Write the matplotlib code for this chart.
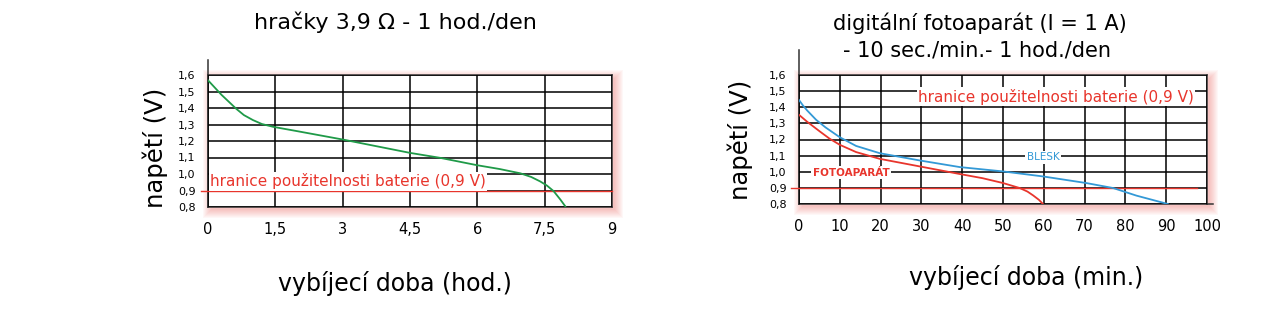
import numpy as np
import matplotlib.pyplot as plt
from matplotlib.patches import Rectangle
from matplotlib.lines import Line2D

#
# data
#
hod = [0, 0.3, 0.63, 0.8, 1.0, 1.2, 1.45, 2.0, 3.0, 4.0, 4.5, 5.17, 6.0, 6.5,
       6.96, 7.2, 7.4, 7.55, 7.7, 7.85, 7.96]
hracky = [1.568, 1.48, 1.395, 1.357, 1.327, 1.303, 1.286, 1.259, 1.209, 1.155, 1.128,
          1.098, 1.053, 1.03, 1.004, 0.982, 0.955, 0.93, 0.896, 0.845, 0.804]

blesk_min = [0, 1, 2, 4.2, 6.5, 10, 14, 19.8, 29.6, 39.4, 50, 59.8, 70.4, 77, 82.7, 90.4]
blesk = [1.445, 1.41, 1.38, 1.322, 1.275, 1.214, 1.16, 1.115, 1.07, 1.029, 1.002,
         0.971, 0.93, 0.899, 0.852, 0.80]

foto_min = [0, 2, 5.1, 7.5, 10, 14, 19.8, 29.6, 39.4, 45, 50, 54.1, 56, 57.4, 58.8, 59.8]
foto = [1.353, 1.31, 1.25, 1.205, 1.167, 1.122, 1.08, 1.033, 0.986, 0.96, 0.93, 0.899,
        0.877, 0.853, 0.826, 0.80]

y_ticks = [0.8, 0.9, 1.0, 1.1, 1.2, 1.3, 1.4, 1.5, 1.6]
y_labels = ['0,8', '0,9', '1,0', '1,1', '1,2', '1,3', '1,4', '1,5', '1,6']
x1_ticks = [0, 1.5, 3, 4.5, 6, 7.5, 9]
x1_labels = ['0', '1,5', '3', '4,5', '6', '7,5', '9']
x2_ticks = [0, 10, 20, 30, 40, 50, 60, 70, 80, 90, 100]
x2_labels = [str(v) for v in x2_ticks]

limit = 0.9
limit_text = 'hranice použitelnosti baterie (0,9 V)'

RED = '#e8352c'
GREEN = '#1f9a48'
BLUE = '#3399d6'

plt.rcParams['font.family'] = ['DejaVu Sans']

W, H = 1281, 322
fig = plt.figure(figsize=(W / 100, H / 100), dpi=100)
box1 = (208, 115, 404, 132)
box2 = (799, 118, 408, 129)
ax1 = fig.add_axes([box1[0] / W, box1[1] / H, box1[2] / W, box1[3] / H])
ax2 = fig.add_axes([box2[0] / W, box2[1] / H, box2[2] / W, box2[3] / H])


def glow(box):
    # soft red shadow behind the white box, shifted right and down
    x, y, w, h = box
    for k in range(9):
        fig.patches.append(Rectangle(((x + 3 - k) / W, (y - 3 - k) / H),
                                     (w + 2 * k) / W, (h + 2 * k) / H,
                                     transform=fig.transFigure, fc=RED, ec='none',
                                     alpha=0.035, zorder=-1))


def setup(ax, xmax, xticks, xlabels, spine_top):
    ax.set_xlim(0, xmax)
    ax.set_ylim(0.8, 1.6)
    ax.set_xticks(xticks)
    ax.set_xticklabels(xlabels, fontsize=10.5)
    ax.set_yticks(y_ticks)
    ax.set_yticklabels(y_labels, fontsize=8)
    ax.tick_params(axis='x', length=0, pad=11)
    ax.tick_params(axis='y', length=0, pad=9)
    ax.grid(True, color='black', lw=1.1)
    ax.set_axisbelow(False)
    for s in ax.spines.values():
        s.set_linewidth(1.1)
        s.set_color('#333333')
    # left spine goes up past the box
    ax.add_line(Line2D([0, 0], [0, spine_top], transform=ax.transAxes,
                       color='#333333', lw=1.1, clip_on=False))


glow(box1)
glow(box2)
setup(ax1, 9, x1_ticks, x1_labels, 1.11)
setup(ax2, 100, x2_ticks, x2_labels, 1.19)

# left chart
ax1.plot([-0.15, 9], [limit, limit], color=RED, lw=1.0, clip_on=False, zorder=3)
ax1.plot(hod, hracky, color=GREEN, lw=1.3, zorder=4)
ax1.text(0.05, 0.955, limit_text, color=RED, fontsize=11, va='center', ha='left',
         bbox=dict(fc='white', ec='none', pad=1), zorder=5)

# right chart
ax2.plot([-2, 97.5], [limit, limit], color=RED, lw=1.0, clip_on=False, zorder=3)
ax2.plot([100, 101.5], [0.8, 0.8], color='#333333', lw=1.1, clip_on=False)
ax2.plot(blesk_min, blesk, color=BLUE, lw=1.3, zorder=4)
ax2.plot(foto_min, foto, color=RED, lw=1.3, zorder=4)
ax2.text(63, 1.465, limit_text, color=RED, fontsize=11, va='center', ha='center',
         bbox=dict(fc='white', ec='none', pad=1), zorder=5)
ax2.text(59.8, 1.09, 'BLESK', color=BLUE, fontsize=7.5, va='center', ha='center',
         bbox=dict(fc='white', ec='none', pad=1), zorder=5)
ax2.text(12.8, 0.995, 'FOTOAPARÁT', color=RED, fontsize=7.5, fontweight='bold',
         va='center', ha='center', bbox=dict(fc='white', ec='none', pad=1), zorder=5)

# titles and axis labels
fig.text(395 / W, 1 - 22 / H, 'hračky 3,9 Ω - 1 hod./den', fontsize=16,
         ha='center', va='center')
fig.text(980 / W, 1 - 23 / H, 'digitální fotoaparát (I = 1 A)', fontsize=15,
         ha='center', va='center')
fig.text(977 / W, 1 - 51 / H, '- 10 sec./min.- 1 hod./den', fontsize=15,
         ha='center', va='center')

fig.text(155 / W, 1 - 148 / H, 'napětí (V)', fontsize=17.5, rotation=90,
         ha='center', va='center')
fig.text(740 / W, 1 - 140 / H, 'napětí (V)', fontsize=17.5, rotation=90,
         ha='center', va='center')
fig.text(395 / W, 1 - 283 / H, 'vybíjecí doba (hod.)', fontsize=17,
         ha='center', va='center')
fig.text(1026 / W, 1 - 277 / H, 'vybíjecí doba (min.)', fontsize=17,
         ha='center', va='center')

plt.savefig('out.png', dpi=100)
